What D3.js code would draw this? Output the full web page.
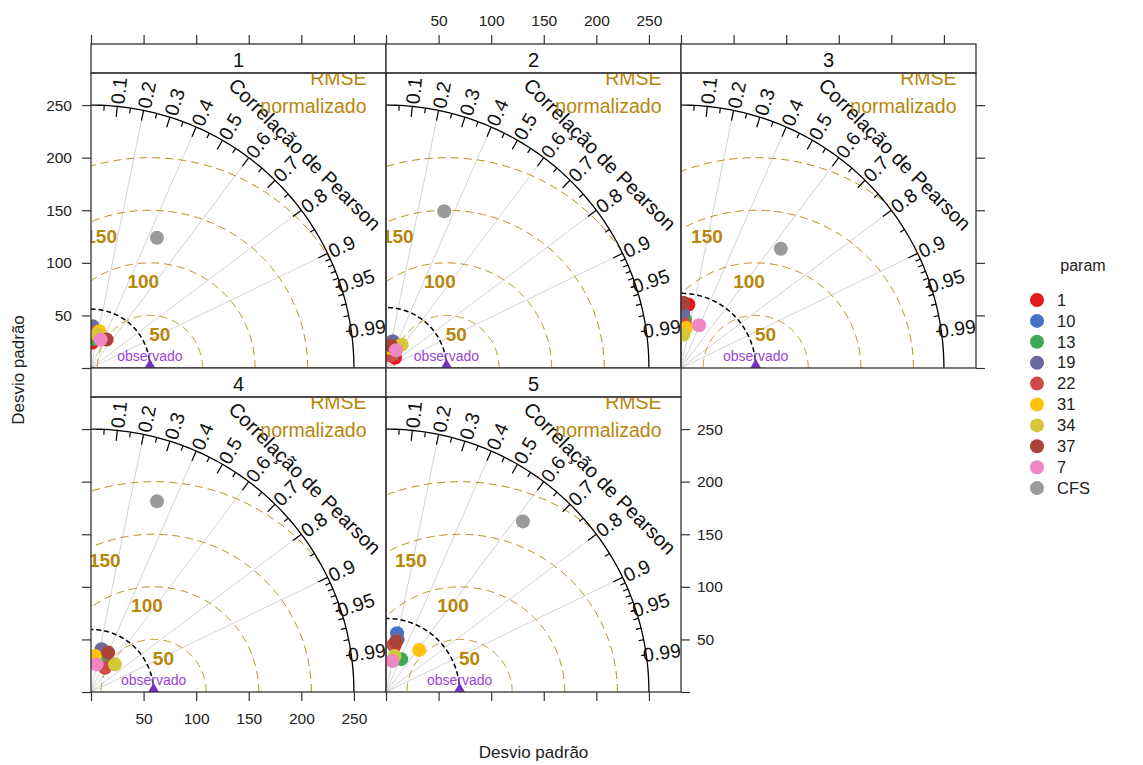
<!DOCTYPE html>
<html>
<head>
<meta charset="utf-8">
<script src="https://d3js.org/d3.v7.min.js"></script>
<style>
  body { margin: 0; background: #fff; }
  svg { font-family: "Liberation Sans", Arial, sans-serif; }
</style>
</head>
<body>
<script>
// ---- data ----
var params = ["1", "10", "13", "19", "22", "31", "34", "37", "7", "CFS"];
var paramColors = ["#e41a1c", "#4472c4", "#3caa55", "#6c6a9c", "#d04a48", "#ffc20e", "#d6c63a", "#aa4238", "#f186c4", "#9a9a9a"];
var panelNames = ["1", "2", "3", "4", "5"];
var obsSd = [56, 57.5, 71, 59.5, 70];

// standard deviation and Pearson correlation per param (same order as params)
var sdP1 = [24, 30, 28, 39.7, 33, 35.9, 32.6, 30.9, 28.6, 138.8];
var corP1 = [0.04, 0.10, 0.14, 0.04, 0.06, 0.22, 0.18, 0.48, 0.32, 0.452];
var sdP2 = [13, 15.8, 14.3, 26.3, 12.6, 19.6, 26.8, 21.6, 19.4, 159];
var corP2 = [0.66, 0.32, 0.42, 0.24, 0.32, 0.19, 0.56, 0.23, 0.49, 0.348];
var sdP3 = [60.8, 50, 46.2, 52.5, 41.5, 38.5, 31.9, 62, 44.1, 147.9];
var corP3 = [0.115, 0.04, 0.08, 0.04, 0.09, 0.125, 0.07, 0.035, 0.39, 0.642];
var sdP4 = [33, 33, 31.6, 41.8, 26.7, 34.4, 34.8, 40.9, 26.8, 191.8];
var corP4 = [0.45, 0.24, 0.32, 0.24, 0.50, 0.11, 0.655, 0.40, 0.20, 0.327];
var sdP5 = [44.7, 56.8, 34.4, 51.2, 45.5, 50.9, 35.2, 48.4, 30.1, 208];
var corP5 = [0.18, 0.185, 0.42, 0.215, 0.154, 0.62, 0.23, 0.19, 0.20, 0.626];
var sdAll = [sdP1, sdP2, sdP3, sdP4, sdP5];
var corAll = [corP1, corP2, corP3, corP4, corP5];

var axisTicks = [0, 50, 100, 150, 200, 250];
var corLabels = [0.1, 0.2, 0.3, 0.4, 0.5, 0.6, 0.7, 0.8, 0.9, 0.95, 0.99];
var corGrid = [0.2, 0.4, 0.6, 0.8, 0.9];
var rmsVals = [50, 100, 150, 200];
var maxsd = 250;

// ---- layout ----
var W = 1143, H = 765;
var left = 91, topY = 44, stripH = 29, pw = 295, ph = 295;
var gold = "#b8860b", purple = "#9a45d6";

var x = d3.scaleLinear().domain([0, 280.5]).range([0, pw]);
var y = d3.scaleLinear().domain([0, 280.5]).range([ph, 0]);

var svg = d3.select("body").append("svg")
    .attr("width", W)
    .attr("height", H);

svg.append("defs").append("clipPath").attr("id", "clip")
  .append("rect").attr("width", pw).attr("height", ph);

function polar(r, c) { return [x(r * c), y(r * Math.sqrt(1 - c * c))]; }

var line = d3.line().x(function(d) { return x(d[0]); }).y(function(d) { return y(d[1]); });
var quarter = d3.range(0, 91, 1).map(function(a) { return a * Math.PI / 180; });

panelNames.forEach(function(name, i) {
  var col = i % 3, row = Math.floor(i / 3);
  var px = left + col * pw, py = topY + row * (stripH + ph);
  var obs = obsSd[i];

  // strip
  svg.append("rect")
    .attr("x", px).attr("y", py).attr("width", pw).attr("height", stripH)
    .attr("fill", "#fff").attr("stroke", "#333").attr("stroke-width", 1.3);
  svg.append("text")
    .attr("x", px + pw / 2).attr("y", py + 23)
    .attr("text-anchor", "middle").attr("font-size", 20).attr("fill", "#111")
    .text(name);

  var outer = svg.append("g").attr("transform", "translate(" + px + "," + (py + stripH) + ")");
  var g = outer.append("g").attr("clip-path", "url(#clip)");

  // radial grid lines
  g.selectAll(".rad").data(corGrid).enter().append("line")
    .attr("x1", x(0)).attr("y1", y(0))
    .attr("x2", function(c) { return polar(maxsd, c)[0]; })
    .attr("y2", function(c) { return polar(maxsd, c)[1]; })
    .attr("stroke", "#c8c8c8").attr("stroke-width", 0.8);

  // centred RMS arcs round the observed point
  var half = d3.range(0, 181, 0.5).map(function(a) { return a * Math.PI / 180; });
  rmsVals.forEach(function(gm, k) {
    var pts = half.map(function(a) { return [obs + gm * Math.cos(a), gm * Math.sin(a)]; })
      .filter(function(p) { return p[0] >= 0 && p[0] * p[0] + p[1] * p[1] <= maxsd * maxsd; });
    g.append("path").attr("d", line(pts))
      .attr("fill", "none").attr("stroke", gold).attr("stroke-width", 1)
      .attr("stroke-dasharray", "8,5");
    var idx = Math.floor(45 + k * 25 / (rmsVals.length - 1));
    var a = (idx - 1) * Math.PI / 100;
    var lx = obs + gm * Math.cos(a), ly = gm * Math.sin(a);
    g.append("text")
      .attr("x", x(lx)).attr("y", y(ly) + 18)
      .attr("dy", "0.35em")
      .attr("text-anchor", "middle").attr("font-size", 19).attr("font-weight", "bold")
      .attr("fill", gold).text(gm);
  });

  // observed sd arc
  g.append("path")
    .attr("d", line(quarter.map(function(a) { return [obs * Math.cos(a), obs * Math.sin(a)]; })))
    .attr("fill", "none").attr("stroke", "#000").attr("stroke-width", 1.5)
    .attr("stroke-dasharray", "5,3");

  // outer correlation arc
  g.append("path")
    .attr("d", line(quarter.map(function(a) { return [maxsd * Math.cos(a), maxsd * Math.sin(a)]; })))
    .attr("fill", "none").attr("stroke", "#000").attr("stroke-width", 1.3);

  // correlation ticks
  var big = d3.range(1, 10).map(function(d) { return d / 10; });
  var med = d3.range(0, 10).map(function(d) { return 0.05 + d / 10; });
  var sml = d3.range(91, 100).map(function(d) { return d / 100; });
  [[big, 0.96], [med, 0.98], [sml, 0.98]].forEach(function(set) {
    g.selectAll(null).data(set[0]).enter().append("line")
      .attr("x1", function(c) { return polar(maxsd, c)[0]; })
      .attr("y1", function(c) { return polar(maxsd, c)[1]; })
      .attr("x2", function(c) { return polar(maxsd * set[1], c)[0]; })
      .attr("y2", function(c) { return polar(maxsd * set[1], c)[1]; })
      .attr("stroke", "#000").attr("stroke-width", 1.2);
  });

  // correlation labels
  g.selectAll(".cl").data(corLabels).enter().append("text")
    .attr("transform", function(c) {
      var p = polar(maxsd * 1.06, c);
      var deg = Math.acos(c) * 180 / Math.PI;
      return "translate(" + p[0] + "," + p[1] + ") rotate(" + (-deg) + ")";
    })
    .attr("text-anchor", "middle").attr("dy", "0.35em")
    .attr("font-size", 19.5).attr("fill", "#111")
    .text(function(c) { return String(c); });

  var cp = polar(maxsd * 1.15, Math.SQRT1_2);
  g.append("text")
    .attr("transform", "translate(" + cp[0] + "," + cp[1] + ") rotate(45)")
    .attr("text-anchor", "middle").attr("dy", "0.35em")
    .attr("font-size", 20).attr("fill", "#111")
    .text("Correlação de Pearson");

  // RMSE title, partly clipped by the panel top as in lattice
  g.append("text").attr("x", x(262)).attr("y", 12)
    .attr("text-anchor", "end").attr("font-size", 19.5).attr("fill", gold).text("RMSE");
  g.append("text").attr("x", x(262)).attr("y", 40)
    .attr("text-anchor", "end").attr("font-size", 19.5).attr("fill", gold).text("normalizado");

  // observed point
  g.append("text").attr("x", x(obs)).attr("y", y(0) - 7)
    .attr("text-anchor", "middle").attr("font-size", 14).attr("fill", purple).text("observado");
  g.append("path")
    .attr("d", d3.symbol().type(d3.symbolTriangle).size(70)())
    .attr("transform", "translate(" + x(obs) + "," + (y(0) - 2) + ")")
    .attr("fill", "#7a2fc0");

  // model points
  var pts = params.map(function(p, j) { return { p: p, sd: sdAll[i][j], c: corAll[i][j], col: paramColors[j] }; });
  g.selectAll(".pt").data(pts).enter().append("circle")
    .attr("cx", function(d) { return polar(d.sd, d.c)[0]; })
    .attr("cy", function(d) { return polar(d.sd, d.c)[1]; })
    .attr("r", 7)
    .attr("fill", function(d) { return d.col; });

  // border
  outer.append("rect").attr("width", pw).attr("height", ph)
    .attr("fill", "none").attr("stroke", "#333").attr("stroke-width", 1.3);
});

// ---- lattice style axes ----
function fmt(show) { return function(d) { return show && d > 0 ? d : ""; }; }
function styleAxis(sel) {
  sel.select(".domain").remove();
  sel.selectAll("line").attr("stroke", "#333").attr("stroke-width", 1.2);
  sel.selectAll("text").attr("font-size", 15.5).attr("fill", "#222")
    .attr("font-family", "Liberation Sans, Arial, sans-serif");
}
var ys = [topY + stripH, topY + 2 * stripH + ph];

// top
[0, 1, 2].forEach(function(c) {
  svg.append("g").attr("transform", "translate(" + (left + c * pw) + "," + topY + ")")
    .call(d3.axisTop(x).tickValues(axisTicks).tickSize(9).tickPadding(9).tickFormat(fmt(c === 1)))
    .call(styleAxis);
});
// bottom
[0, 1].forEach(function(c) {
  svg.append("g").attr("transform", "translate(" + (left + c * pw) + "," + (ys[1] + ph) + ")")
    .call(d3.axisBottom(x).tickValues(axisTicks).tickSize(9).tickPadding(12).tickFormat(fmt(c === 0)))
    .call(styleAxis);
});
// left
[0, 1].forEach(function(r) {
  svg.append("g").attr("transform", "translate(" + left + "," + ys[r] + ")")
    .call(d3.axisLeft(y).tickValues(axisTicks).tickSize(9).tickPadding(10).tickFormat(fmt(r === 0)))
    .call(styleAxis);
});
// right
svg.append("g").attr("transform", "translate(" + (left + 3 * pw) + "," + ys[0] + ")")
  .call(d3.axisRight(y).tickValues(axisTicks).tickSize(9).tickFormat(fmt(false)))
  .call(styleAxis);
svg.append("g").attr("transform", "translate(" + (left + 2 * pw) + "," + ys[1] + ")")
  .call(d3.axisRight(y).tickValues(axisTicks).tickSize(9).tickPadding(7).tickFormat(fmt(true)))
  .call(styleAxis);

// axis titles
svg.append("text").attr("x", left + 1.5 * pw).attr("y", 758)
  .attr("text-anchor", "middle").attr("font-size", 17).attr("fill", "#222").text("Desvio padrão");
svg.append("text").attr("transform", "translate(24," + (topY + stripH + ph + 2) + ") rotate(-90)")
  .attr("text-anchor", "middle").attr("font-size", 17).attr("fill", "#222").text("Desvio padrão");

// legend
var legend = svg.append("g").attr("transform", "translate(1037,300)");
legend.append("text").attr("x", 46).attr("y", -35).attr("dy", "0.35em")
  .attr("text-anchor", "middle").attr("font-size", 16).attr("fill", "#222").text("param");
var items = legend.selectAll(".item").data(params).enter().append("g")
  .attr("transform", function(d, k) { return "translate(0," + (k * 20.9) + ")"; });
items.append("circle").attr("r", 7).attr("fill", function(d, k) { return paramColors[k]; });
items.append("text").attr("x", 20).attr("dy", "0.35em")
  .attr("font-size", 16.5).attr("fill", "#222").text(function(d) { return d; });
</script>
</body>
</html>
